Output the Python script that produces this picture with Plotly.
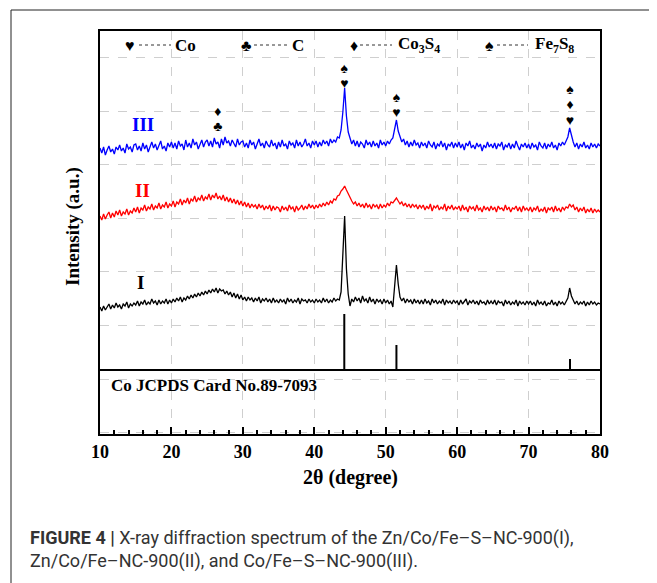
import plotly.graph_objects as go

# ---------------- data ----------------
two_theta = [
    10.0,10.25,10.5,10.75,11.0,11.25,11.5,11.75,12.0,12.25,12.5,12.75,13.0,13.25,13.5,13.75,14.0,14.25,14.5,14.75,
    15.0,15.25,15.5,15.75,16.0,16.25,16.5,16.75,17.0,17.25,17.5,17.75,18.0,18.25,18.5,18.75,19.0,19.25,19.5,19.75,
    20.0,20.25,20.5,20.75,21.0,21.25,21.5,21.75,22.0,22.25,22.5,22.75,23.0,23.25,23.5,23.75,24.0,24.25,24.5,24.75,
    25.0,25.25,25.5,25.75,26.0,26.25,26.5,26.75,27.0,27.25,27.5,27.75,28.0,28.25,28.5,28.75,29.0,29.25,29.5,29.75,
    30.0,30.25,30.5,30.75,31.0,31.25,31.5,31.75,32.0,32.25,32.5,32.75,33.0,33.25,33.5,33.75,34.0,34.25,34.5,34.75,
    35.0,35.25,35.5,35.75,36.0,36.25,36.5,36.75,37.0,37.25,37.5,37.75,38.0,38.25,38.5,38.75,39.0,39.25,39.5,39.75,
    40.0,40.25,40.5,40.75,41.0,41.25,41.5,41.75,42.0,42.25,42.5,42.75,43.0,43.25,43.5,43.75,44.0,44.25,44.5,44.75,
    45.0,45.25,45.5,45.75,46.0,46.25,46.5,46.75,47.0,47.25,47.5,47.75,48.0,48.25,48.5,48.75,49.0,49.25,49.5,49.75,
    50.0,50.25,50.5,50.75,51.0,51.25,51.5,51.75,52.0,52.25,52.5,52.75,53.0,53.25,53.5,53.75,54.0,54.25,54.5,54.75,
    55.0,55.25,55.5,55.75,56.0,56.25,56.5,56.75,57.0,57.25,57.5,57.75,58.0,58.25,58.5,58.75,59.0,59.25,59.5,59.75,
    60.0,60.25,60.5,60.75,61.0,61.25,61.5,61.75,62.0,62.25,62.5,62.75,63.0,63.25,63.5,63.75,64.0,64.25,64.5,64.75,
    65.0,65.25,65.5,65.75,66.0,66.25,66.5,66.75,67.0,67.25,67.5,67.75,68.0,68.25,68.5,68.75,69.0,69.25,69.5,69.75,
    70.0,70.25,70.5,70.75,71.0,71.25,71.5,71.75,72.0,72.25,72.5,72.75,73.0,73.25,73.5,73.75,74.0,74.25,74.5,74.75,
    75.0,75.25,75.5,75.75,76.0,76.25,76.5,76.75,77.0,77.25,77.5,77.75,78.0,78.25,78.5,78.75,79.0,79.25,79.5,79.75,
    80.0]

intensity_III = [
    286,281,287,279,284,288,282,285,280,287,284,289,283,286,281,290,285,287,282,289,
    290,284,288,283,291,285,289,282,287,292,286,290,284,289,293,285,288,283,291,287,
    292,286,291,285,293,288,290,284,294,287,291,286,295,289,292,285,290,294,287,292,
    294,288,293,287,296,290,292,286,295,289,297,291,293,288,294,290,287,295,289,292,
    293,287,291,286,294,289,292,285,290,295,288,291,286,293,289,287,294,288,291,285,
    292,287,294,288,290,285,293,289,291,286,294,288,292,287,290,295,288,291,286,293,
    289,293,287,292,288,294,290,293,288,295,291,294,292,297,296,304,322,346,318,302,
    296,290,294,288,293,287,292,290,286,294,289,292,287,293,288,291,286,294,289,292,
    288,293,290,294,296,304,314,303,296,292,295,289,293,287,292,288,294,289,291,286,
    292,288,291,286,293,289,287,292,285,290,288,293,287,291,284,290,288,292,286,291,
    287,292,286,290,284,291,288,293,286,289,285,291,287,290,283,289,286,292,287,290,
    286,291,285,290,288,292,284,289,287,291,285,290,286,293,288,284,290,287,291,286,
    290,285,291,287,289,284,292,288,286,291,285,290,287,292,286,289,284,291,288,292,
    289,293,297,306,298,292,287,291,285,290,287,292,286,289,285,291,287,290,286,290,
    288]

intensity_II = [
    218,214,220,215,219,222,216,221,217,223,219,224,218,222,220,225,219,223,221,226,
    222,227,221,226,224,229,223,227,225,230,224,228,226,231,225,229,227,232,226,230,
    228,233,227,232,230,235,229,234,231,236,230,235,233,238,232,236,234,239,233,237,
    235,240,234,239,236,241,235,238,234,239,233,237,232,236,231,235,230,234,229,233,
    228,232,227,231,226,230,227,229,225,230,226,229,224,228,225,229,223,228,224,227,
    226,222,228,224,227,223,229,225,227,222,228,224,226,229,224,228,225,230,226,229,
    225,229,226,230,227,231,228,232,229,233,231,235,234,238,239,243,245,248,244,240,
    236,233,230,232,228,231,227,230,226,231,227,229,225,230,227,229,225,230,226,229,
    227,231,228,232,231,234,236,233,230,232,228,231,227,230,226,230,227,229,225,229,
    226,229,224,228,225,230,223,228,226,229,224,227,225,230,223,228,225,229,224,227,
    225,228,223,229,224,227,222,228,225,227,223,229,224,226,222,228,224,227,223,228,
    224,227,222,228,225,226,223,229,224,227,222,226,225,228,223,227,222,228,224,226,
    223,227,222,226,224,228,222,225,223,227,221,226,224,227,222,228,223,226,222,227,
    224,227,226,230,227,229,224,227,222,226,223,227,221,225,222,226,221,225,222,224,
    222]

intensity_I = [
    127,123,128,124,127,130,125,129,126,131,127,129,125,130,128,132,126,130,128,131,
    129,133,128,132,130,134,129,132,130,135,131,133,129,134,130,133,131,135,130,134,
    131,135,132,136,133,137,132,136,134,138,135,139,136,140,137,141,138,142,139,143,
    140,144,141,145,142,146,141,145,143,144,140,143,139,142,137,141,136,140,135,139,
    134,137,133,137,134,136,132,136,133,137,131,135,133,136,132,135,131,136,132,134,
    131,135,132,134,130,136,132,135,131,134,132,136,130,135,133,134,131,135,132,134,
    131,135,132,134,131,136,132,135,131,134,132,136,133,135,134,142,180,218,165,140,
    128,135,132,137,133,136,131,138,133,135,131,137,132,135,130,135,132,134,130,135,
    131,134,130,133,127,148,169,150,137,133,136,131,135,132,134,130,135,131,134,130,
    134,130,135,131,133,129,135,131,134,130,133,131,135,129,134,131,133,130,134,131,
    133,129,134,130,132,135,129,133,131,134,130,133,129,134,131,132,129,134,130,133,
    130,134,129,133,131,132,128,134,130,133,129,132,130,134,128,133,130,132,129,133,
    130,133,129,132,128,134,130,132,129,133,128,131,130,134,129,132,128,133,130,132,
    129,133,136,146,138,134,130,133,129,132,130,133,128,132,129,133,130,132,129,131,
    130]

# Co JCPDS 89-7093 reference lines
ref_positions = [44.2, 51.5, 75.8]
ref_heights = [120, 89, 75]
ref_baseline = 64

# phase markers above the peaks of sample III
marker_x = [26.5, 26.5, 44.2, 44.2, 51.5, 51.5, 75.8, 75.8, 75.8]
marker_symbols = ["♦", "♣", "♠", "♥", "♠", "♥", "♠", "♦", "♥"]

legend_symbols = ["♥", "♣", "♦", "♠"]
legend_names = ["Co", "C", "Co<sub>3</sub>S<sub>4</sub>", "Fe<sub>7</sub>S<sub>8</sub>"]

x_ticks = [10, 20, 30, 40, 50, 60, 70, 80]

assert len(two_theta) == len(intensity_III) == len(intensity_II) == len(intensity_I)

# ---------------- layout constants ----------------
# page body has an 8px margin, so the figure is 8px smaller and everything shifted
W, H = 649, 575
ML, MR, MT, MB = 92, 57, 23, 149
SERIF = "Liberation Serif, Times New Roman, serif"
SANS = "Roboto, Liberation Sans, sans-serif"
marker_y = [322, 307, 365, 350, 336, 321, 344, 329, 313]
legend_y = 389
legend_sym_x = [14.2, 30.44, 45.56, 64.46]
legend_line_x = [(15.46, 19.94), (31.56, 36.32), (46.4, 50.88), (65.58, 69.92)]
legend_text_x = [20.2, 36.6, 51.4, 70.6]


def px_x(p):  # reference pixel x -> paper fraction of plot area
    return (p - 100) / 500


def px_y(p):  # reference pixel y -> paper fraction of plot area
    return (434 - p) / 403


fig = go.Figure()

for ys, col in [(intensity_III, "#0000FF"), (intensity_II, "#FF0000"), (intensity_I, "#000000")]:
    fig.add_trace(go.Scatter(x=two_theta, y=ys, mode="lines",
                             line=dict(color=col, width=1.3), showlegend=False,
                             hoverinfo="skip"))

# reference sticks
sx, sy = [], []
for p, h in zip(ref_positions, ref_heights):
    sx += [p, p, None]
    sy += [ref_baseline, h, None]
fig.add_trace(go.Scatter(x=sx, y=sy, mode="lines", line=dict(color="black", width=2),
                         showlegend=False, hoverinfo="skip"))

# phase markers
fig.add_trace(go.Scatter(x=marker_x, y=marker_y, mode="text", text=marker_symbols,
                         textposition="middle center",
                         textfont=dict(family=SERIF, size=14, color="black"),
                         showlegend=False, hoverinfo="skip"))

# separator between panels
fig.add_shape(type="line", xref="x", yref="y", x0=10, x1=80, y0=ref_baseline, y1=ref_baseline,
              line=dict(color="black", width=2))

# legend row
for sym, name, sxp, (l0, l1), tx in zip(legend_symbols, legend_names, legend_sym_x,
                                        legend_line_x, legend_text_x):
    fig.add_annotation(x=sxp, y=legend_y, xref="x", yref="y", text=sym, showarrow=False,
                       xanchor="center", yanchor="middle",
                       font=dict(family=SERIF, size=16, color="black"))
    fig.add_shape(type="line", xref="x", yref="y", x0=l0, x1=l1, y0=legend_y, y1=legend_y,
                  line=dict(color="#333333", width=1, dash="dot"))
    fig.add_annotation(x=tx, y=legend_y, xref="x", yref="y", text="<b>" + name + "</b>",
                       showarrow=False, xanchor="left", yanchor="middle",
                       font=dict(family=SERIF, size=17, color="black"))

# sample labels
for txt, col, lx, ly in [("III", "#0000FF", 16.0, 310), ("II", "#FF0000", 15.9, 244),
                         ("I", "#000000", 15.7, 152)]:
    fig.add_annotation(x=lx, y=ly, xref="x", yref="y", text="<b>" + txt + "</b>",
                       showarrow=False, xanchor="center", yanchor="middle",
                       font=dict(family=SERIF, size=19, color=col))

fig.add_annotation(x=11.2, y=49, xref="x", yref="y", text="<b>Co JCPDS Card No.89-7093</b>",
                   showarrow=False, xanchor="left", yanchor="middle",
                   font=dict(family=SERIF, size=17, color="black"))

# axis titles
fig.add_annotation(x=0.5, y=px_y(477), xref="paper", yref="paper",
                   text="<b>2θ (degree)</b>", showarrow=False,
                   xanchor="center", yanchor="middle",
                   font=dict(family=SERIF, size=20, color="black"))
fig.add_annotation(x=px_x(73), y=px_y(227), xref="paper", yref="paper",
                   text="<b>Intensity (a.u.)</b>", showarrow=False, textangle=-90,
                   xanchor="center", yanchor="middle",
                   font=dict(family=SERIF, size=19, color="black"))

# caption
fig.add_annotation(x=px_x(28), y=px_y(538), xref="paper", yref="paper",
                   xanchor="left", yanchor="middle", align="left",
                   text="<b>FIGURE 4 |</b> X-ray diffraction spectrum of the Zn/Co/Fe–S–NC-900(I),",
                   showarrow=False, font=dict(family=SANS, size=18, color="#333333"))
fig.add_annotation(x=px_x(28), y=px_y(561), xref="paper", yref="paper",
                   xanchor="left", yanchor="middle", align="left",
                   text="Zn/Co/Fe–NC-900(II), and Co/Fe–S–NC-900(III).",
                   showarrow=False, font=dict(family=SANS, size=18, color="#333333"))

# outer frame
fig.add_shape(type="rect", xref="paper", yref="paper",
              x0=px_x(11), x1=px_x(720), y0=px_y(720), y1=px_y(10),
              line=dict(color="#222222", width=1), layer="below")

fig.update_xaxes(range=[10, 80], tickvals=x_ticks, ticktext=[str(v) for v in x_ticks],
                 showgrid=True, gridcolor="#cfcfcf", griddash="dash", gridwidth=1,
                 zeroline=False, showline=True, linecolor="black", linewidth=2, mirror=True,
                 ticks="inside", ticklen=7, tickwidth=2, tickcolor="black",
                 minor=dict(dtick=2, ticks="inside", ticklen=4, tickwidth=2,
                            tickcolor="black", showgrid=False),
                 tickfont=dict(family=SERIF, size=18, color="black", weight="bold"))
fig.update_yaxes(range=[0, 403], tick0=55, dtick=53.6, showticklabels=False, ticks="",
                 showgrid=True, gridcolor="#cfcfcf", griddash="dash", gridwidth=1,
                 zeroline=False, showline=True, linecolor="black", linewidth=2, mirror=True)

fig.update_layout(width=W, height=H, margin=dict(l=ML, r=MR, t=MT, b=MB),
                  plot_bgcolor="white", paper_bgcolor="white", showlegend=False)

fig.write_html("out.html")
